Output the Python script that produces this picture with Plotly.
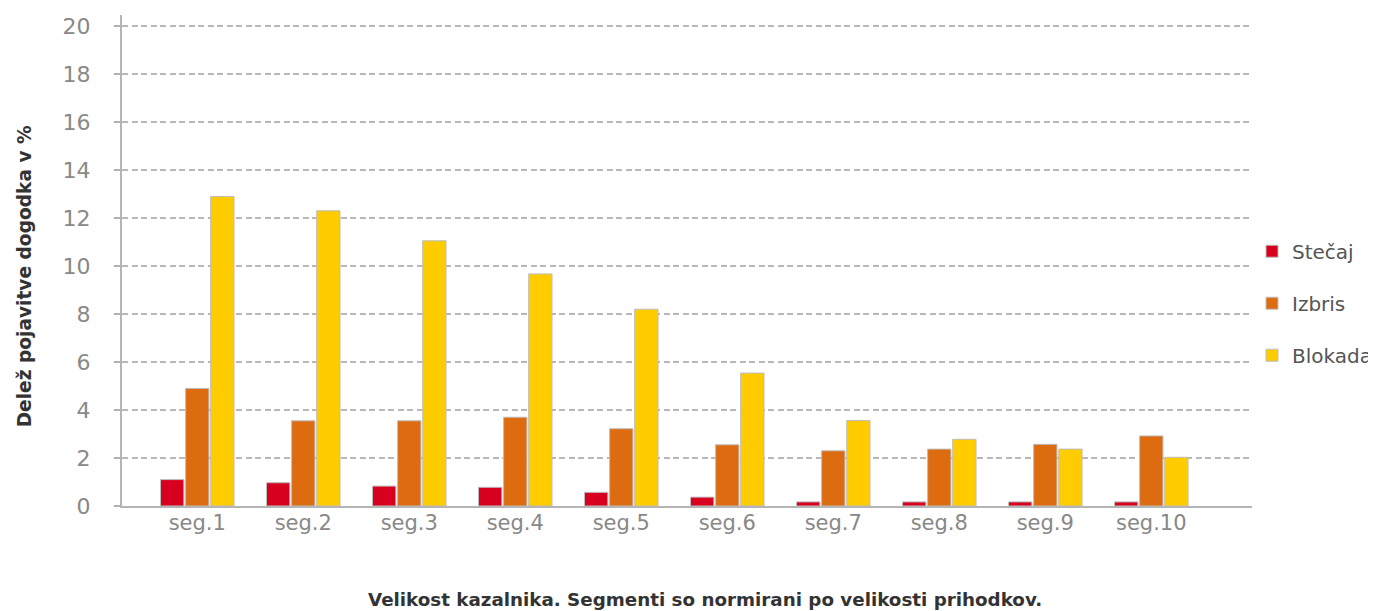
import plotly.graph_objects as go

categories = ["seg.1", "seg.2", "seg.3", "seg.4", "seg.5", "seg.6", "seg.7", "seg.8", "seg.9", "seg.10"]
stecaj = [1.1, 0.97, 0.83, 0.78, 0.57, 0.37, 0.17, 0.17, 0.17, 0.17]
izbris = [4.9, 3.55, 3.55, 3.7, 3.22, 2.55, 2.3, 2.37, 2.57, 2.92]
blokada = [12.9, 12.3, 11.05, 9.67, 8.2, 5.54, 3.56, 2.78, 2.37, 2.03]
y_ticks = [0, 2, 4, 6, 8, 10, 12, 14, 16, 18, 20]
x_title = "Velikost kazalnika. Segmenti so normirani po velikosti prihodkov."
y_title = "Delež pojavitve dogodka v %"

series = [
    ("Stečaj", stecaj, "#D7001E"),
    ("Izbris", izbris, "#DD6C10"),
    ("Blokada", blokada, "#FFCC00"),
]

fig = go.Figure()
for i, (name, vals, col) in enumerate(series):
    fig.add_trace(go.Bar(
        x=list(range(len(categories))), y=vals, name=name,
        marker=dict(color=col, line=dict(color="#BDBDBD", width=1)),
        legendgroup=name,
    ))

font_family = "DejaVu Sans, Verdana, sans-serif"
fig.update_layout(
    width=1368, height=603,
    margin=dict(l=114, r=124, t=7, b=105, autoexpand=False),
    paper_bgcolor="white", plot_bgcolor="white",
    barmode="group", bargap=0.29, bargroupgap=0.07,
    font=dict(family=font_family, color="#888888"),
    showlegend=True,
    legend=dict(
        x=1.0, y=0.413, xanchor="left", yanchor="middle",
        font=dict(size=20, color="#555555", family=font_family),
        tracegroupgap=23, itemwidth=30,
    ),
    xaxis=dict(
        tickmode="array", tickvals=list(range(len(categories))), ticktext=categories,
        range=[-0.71, 9.95], automargin=False,
        showgrid=False, zeroline=False,
        showline=True, linecolor="#B5B5B5", linewidth=2,
        tickfont=dict(size=21, color="#888888"), ticks="",
        ticklabelstandoff=-3,
    ),
    yaxis=dict(
        range=[0, 20.46], tickmode="array", tickvals=y_ticks, automargin=False,
        showgrid=True, gridcolor="#B8B8B8", griddash="6px,3.5px", gridwidth=1.8,
        zeroline=False,
        showline=True, linecolor="#B5B5B5", linewidth=2,
        ticks="outside", ticklen=6, tickcolor="#B0B0B0", tickwidth=1.5,
        ticklabelstandoff=19,
        tickfont=dict(size=22, color="#888888"),
    ),
    annotations=[
        dict(
            text="<b>" + y_title + "</b>", textangle=-90,
            xref="paper", yref="paper", x=-0.0866, y=0.468,
            xanchor="center", yanchor="middle", showarrow=False,
            font=dict(size=18.6, color="#333333", family=font_family),
        ),
        dict(
            text="<b>" + x_title + "</b>",
            xref="paper", yref="paper", x=0.516, y=-0.1914,
            xanchor="center", yanchor="middle", showarrow=False,
            font=dict(size=18.3, color="#333333", family=font_family),
        ),
    ],
)

fig.write_html("out.html")
